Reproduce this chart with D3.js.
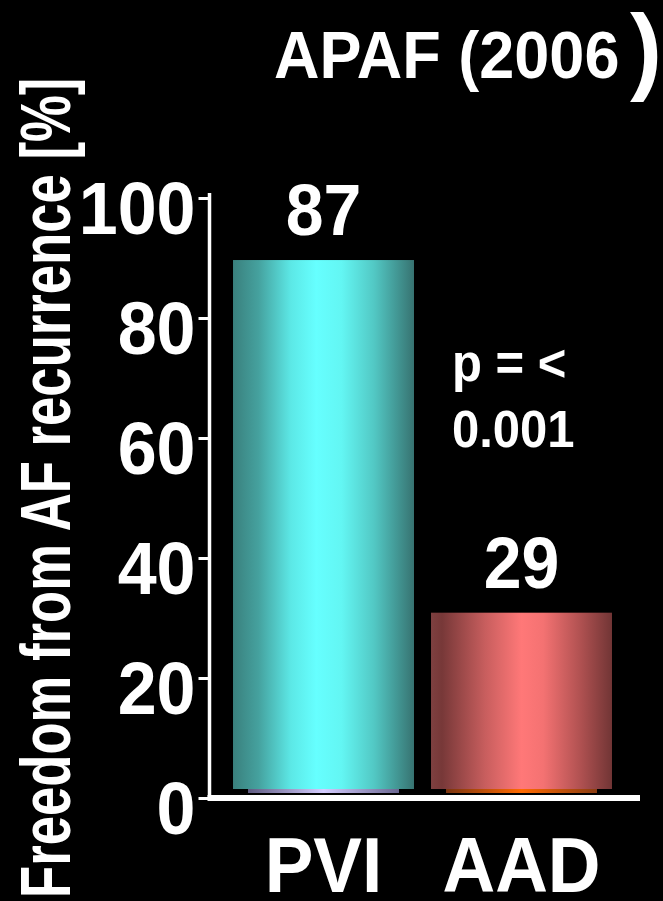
<!DOCTYPE html>
<html>
<head>
<meta charset="utf-8">
<script src="https://cdn.jsdelivr.net/npm/d3@7"></script>
<style>
  html, body { margin: 0; padding: 0; background: #000; }
  svg { display: block; }
  text { font-family: "Liberation Sans", Arial, Helvetica, sans-serif; font-weight: bold; fill: #fff; }
</style>
</head>
<body>
<script>
// Freedom from AF recurrence, APAF trial (2006)
const categories = ["PVI", "AAD"];
const values = [87, 29];
const tickValues = [0, 20, 40, 60, 80, 100];
const titleText = "APAF (2006";
const yLabel = "Freedom from AF recurrence [%]";
const pLines = ["p = <", "0.001"];

const W = 663, H = 901;
const stretch = 1.07; // text is set slightly tall

const svg = d3.select("body").append("svg")
  .attr("width", W).attr("height", H)
  .style("background", "#000");

const defs = svg.append("defs");
function hGrad(id, stops) {
  const g = defs.append("linearGradient").attr("id", id)
    .attr("x1", "0%").attr("x2", "100%").attr("y1", "0%").attr("y2", "0%");
  stops.forEach(([o, c]) => g.append("stop").attr("offset", o).attr("stop-color", c));
}
hGrad("gPVI", [["0%", "#3a807d"], ["14%", "#45a19e"], ["32%", "#5ce8e6"], ["46%", "#66ffff"], ["60%", "#63f6f3"], ["78%", "#52c8c4"], ["100%", "#377371"]]);
hGrad("gAAD", [["0%", "#7e4040"], ["6%", "#773838"], ["30%", "#c85e5e"], ["50%", "#ff7878"], ["62%", "#f47272"], ["82%", "#b25252"], ["100%", "#713535"]]);
hGrad("bPVI", [["0%", "#5e5a80"], ["50%", "#d4ccff"], ["100%", "#6a6690"]]);
hGrad("bAAD", [["0%", "#7a3410"], ["50%", "#ff6a00"], ["100%", "#8a3c12"]]);
const grads = { PVI: ["gPVI", "bPVI"], AAD: ["gAAD", "bAAD"] };

// scales: axis ticks and bar heights sit on slightly different baselines
const yAxisScale = d3.scaleLinear().domain([0, 100]).range([798, 198]);
const yBar = d3.scaleLinear().domain([0, 100]).range([789, 181]);
const x = d3.scaleBand().domain(categories).range([224.5, 620.5])
  .paddingInner(0.086).paddingOuter(0.043);

// bars
const bars = svg.append("g");
categories.forEach((c, i) => {
  const v = values[i];
  bars.append("rect")
    .attr("x", x(c)).attr("width", x.bandwidth())
    .attr("y", yBar(v)).attr("height", yBar(0) - yBar(v))
    .attr("fill", `url(#${grads[c][0]})`);
  bars.append("rect")
    .attr("x", x(c) + 15).attr("width", x.bandwidth() - 30)
    .attr("y", yBar(0)).attr("height", 4)
    .attr("fill", `url(#${grads[c][1]})`);
  bars.append("text")
    .attr("text-anchor", "middle")
    .attr("font-size", 68)
    .attr("transform", `translate(${x(c) + x.bandwidth() / 2},${yBar(v) - 25}) scale(1,${stretch})`)
    .text(v);
  svg.append("text")
    .attr("text-anchor", "middle")
    .attr("font-size", 73)
    .attr("transform", `translate(${x(c) + x.bandwidth() / 2},892) scale(1,${stretch})`)
    .text(c);
});

// y axis
const axisG = svg.append("g").attr("transform", "translate(209.5,0)")
  .call(d3.axisLeft(yAxisScale).tickValues(tickValues).tickSize(11).tickPadding(16));
axisG.select(".domain").remove();
axisG.selectAll(".tick line").attr("stroke", "#fff").attr("stroke-width", 3);
axisG.selectAll(".tick text")
  .attr("fill", "#fff")
  .attr("font-size", 70)
  .attr("font-family", "Liberation Sans, Arial, sans-serif")
  .attr("font-weight", "bold")
  .attr("dy", null)
  .attr("x", -14)
  .attr("y", 35 / stretch)
  .attr("transform", `scale(1,${stretch})`);
// axis lines
svg.append("line")
  .attr("x1", 209.5).attr("x2", 209.5)
  .attr("y1", yAxisScale(100) - 5).attr("y2", yAxisScale(0))
  .attr("stroke", "#fff").attr("stroke-width", 3.5);
svg.append("line")
  .attr("x1", 207.5).attr("x2", 640)
  .attr("y1", yAxisScale(0)).attr("y2", yAxisScale(0))
  .attr("stroke", "#fff").attr("stroke-width", 6);

// title
svg.append("text")
  .attr("font-size", 63)
  .attr("transform", `translate(274,78) scale(1,${stretch})`)
  .text(titleText);
svg.append("text")
  .attr("font-size", 96)
  .attr("transform", "translate(630,82)")
  .text(")");

// p value
pLines.forEach((t, i) => {
  svg.append("text")
    .attr("font-size", 49)
    .attr("transform", `translate(452,${381 + i * 66}) scale(1,${stretch})`)
    .text(t);
});

// y axis title
svg.append("text")
  .attr("font-size", 52)
  .attr("transform", "translate(70,898) rotate(-90) scale(1.013,1.35)")
  .text(yLabel);
</script>
</body>
</html>
